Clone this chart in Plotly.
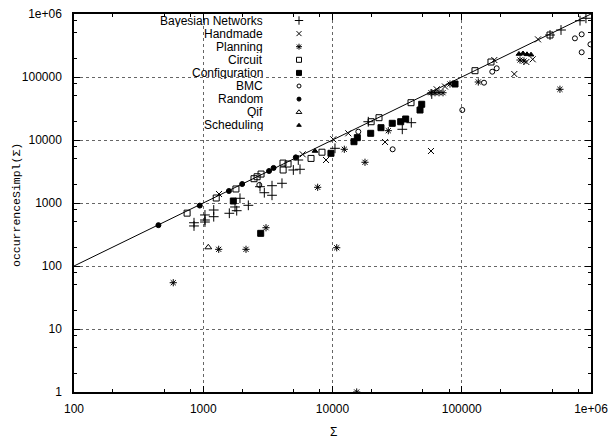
import plotly.graph_objects as go

# ---------------- data ----------------
bayes_x = [848, 848, 1031, 1031, 1031, 1205, 1205, 1924, 1761, 1815, 1591, 2232, 2748, 2968,
           5436, 4977, 5606, 3404, 3404, 4066, 10450, 18920, 34670, 40700, 58600,
           822000, 914000, 586000, 481700]
bayes_y = [486, 432, 646, 537, 499, 774, 606, 1188, 865, 755, 687, 919, 1815, 1456,
           4815, 3342, 3428, 1882, 1326, 2055, 7380, 19500, 14790, 18830, 53700,
           783000, 855000, 557000, 464000]

hand_x = [178600, 255000, 389000, 316000, 354000, 25500, 57800, 13250, 8910, 5880, 1324,
          64000, 74200, 10140]
hand_y = [186000, 111600, 396000, 173000, 191000, 9290, 6690, 12770, 4815, 5930, 1390,
          63800, 70600, 10260]

plan_x = [586, 1317, 2142, 3059, 10780, 15390, 7680, 17840, 12340, 27020, 57800, 62100,
          66700, 71600, 134300, 81100, 282400, 303000, 575000]
plan_y = [54.3, 184, 184, 405, 195, 1, 1775, 4430, 7120, 14060, 56300, 56300,
          56300, 56300, 83300, 77400, 186000, 179500, 63800]

circ_x = [750, 1260, 1790, 2470, 2610, 2800, 4140, 4530, 4150, 6820, 8290, 19900, 22900,
          40500, 126600, 168300, 481700]
circ_y = [690, 1200, 1670, 2430, 2610, 2880, 4300, 4160, 3340, 5100, 6400, 19500, 22600,
          39100, 125900, 173000, 464000]

conf_x = [9730, 14660, 15560, 19750, 23720, 29000, 33700, 36830, 47550, 49000, 2783, 1708, 88700]
conf_y = [6150, 9400, 10890, 12770, 15680, 18410, 19500, 21540, 29900, 36900, 330, 1076, 77400]

bmc_x = [751000, 847000, 847000, 990000, 172200, 186300, 148700, 101000, 29200, 15840, 2715]
bmc_y = [411000, 476000, 247000, 330000, 121400, 137500, 81200, 29900, 7120, 13550, 1932]

rand_x = [450, 940, 1580, 2000, 3230, 3500, 5200]
rand_y = [445, 910, 1550, 2000, 3220, 3600, 5300]

qif_x = [1094]
qif_y = [198]

sched_x = [277000, 297800, 319700, 343400, 7320]
sched_y = [231700, 236000, 229000, 226000, 6690]

diag = [100, 1e6]

x_ticks = [100, 1000, 10000, 100000, 1000000]
x_ticktext = ["100", "1000", "10000", "100000", "1e+06"]
y_ticks = [1, 10, 100, 1000, 10000, 100000, 1000000]
y_ticktext = ["1", "10", "100", "1000", "10000", "100000", "1e+06"]

series = [
    ("Bayesian Networks", bayes_x, bayes_y, "cross-thin-open", 7),
    ("Handmade", hand_x, hand_y, "x-thin-open", 6),
    ("Planning", plan_x, plan_y, "asterisk-open", 6),
    ("Circuit", circ_x, circ_y, "square-open", 6),
    ("Configuration", conf_x, conf_y, "square", 6),
    ("BMC", bmc_x, bmc_y, "circle-open", 5),
    ("Random", rand_x, rand_y, "circle", 5),
    ("Qif", qif_x, qif_y, "triangle-up-open", 6),
    ("Scheduling", sched_x, sched_y, "triangle-up", 5),
]

FONT = "Liberation Sans, Arial, sans-serif"
fig = go.Figure()

fig.add_trace(go.Scatter(x=diag, y=diag, mode="lines",
                         line=dict(color="black", width=1), showlegend=False,
                         hoverinfo="skip"))

for name, xs, ys, sym, sz in series:
    fig.add_trace(go.Scatter(
        x=xs, y=ys, mode="markers", name=name, showlegend=False,
        marker=dict(symbol=sym, size=sz, color="black",
                    line=dict(color="black", width=1)),
    ))

# ---- gnuplot-style key (text right, sample to the right) ----
W = 517.0
H = 378.0
text_x = (264 - 74) / W
samp_x = (299 - 74) / W
for i, (name, xs, ys, sym, sz) in enumerate(series):
    yy = 1 - (6.5 + 13.1 * i) / H
    fig.add_annotation(x=text_x, y=yy, xref="paper", yref="paper", text=name,
                       showarrow=False, xanchor="right", yanchor="middle",
                       height=12, borderpad=0,
                       font=dict(family=FONT, size=12, color="black"))
    fig.add_trace(go.Scatter(
        x=[samp_x], y=[yy], xaxis="x2", yaxis="y2", mode="markers", showlegend=False,
        hoverinfo="skip",
        marker=dict(symbol=sym, size=sz - 1, color="black",
                    line=dict(color="black", width=1)),
    ))

fig.add_shape(type="rect", xref="paper", yref="paper",
              x0=(85 - 74) / W, x1=(312 - 74) / W, y0=1 - (132 - 14) / H, y1=1.0,
              fillcolor="white", line=dict(width=0), layer="between")

# axis titles
fig.add_annotation(x=(333 - 74) / W, y=(392 - 432) / H, xref="paper", yref="paper",
                   text="Σ", showarrow=False, xanchor="center", yanchor="middle",
                   font=dict(family=FONT, size=12, color="black"))
fig.add_annotation(x=(16 - 74) / W, y=1 - (205 - 14) / H, xref="paper", yref="paper",
                   text="occurrenceSimpl(Σ)", showarrow=False, textangle=-90,
                   xanchor="center", yanchor="middle",
                   font=dict(family="Liberation Mono, Courier New, monospace",
                             size=11.5, color="black"))

axis_common = dict(
    type="log", showline=True, linecolor="black", linewidth=1.5, mirror="allticks",
    ticks="inside", ticklen=6, tickcolor="black", tickwidth=1,
    showgrid=True, gridcolor="#666", griddash="dot", gridwidth=1,
    zeroline=False, automargin=False,
    tickfont=dict(family=FONT, size=12, color="black"),
    minor=dict(ticks="inside", ticklen=3, tickcolor="black", showgrid=False,
               tickvals=[m * 10 ** k for k in range(0, 6) for m in (2, 5, 8)]),
)

fig.update_layout(
    width=612, height=441,
    margin=dict(l=74, r=21, t=14, b=49),
    paper_bgcolor="white", plot_bgcolor="white",
    showlegend=False,
    xaxis=dict(axis_common, range=[2, 6], tickmode="array", tickvals=x_ticks,
               ticktext=x_ticktext, ticklabelstandoff=5),
    yaxis=dict(axis_common, range=[0, 6], tickmode="array", tickvals=y_ticks,
               ticktext=y_ticktext, ticklabelstandoff=8),
    xaxis2=dict(overlaying="x", range=[0, 1], visible=False, fixedrange=True),
    yaxis2=dict(overlaying="y", range=[0, 1], visible=False, fixedrange=True),
)

fig.write_html("out.html")
